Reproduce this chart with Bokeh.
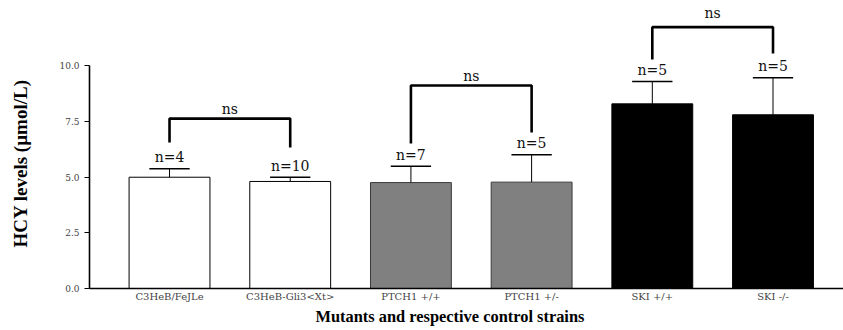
from bokeh.plotting import figure
from bokeh.models import (Range1d, FixedTicker, PrintfTickFormatter, ColumnDataSource, Title,
                          LinearAxis)
from bokeh.core.properties import value
from bokeh.embed import file_html
from bokeh.resources import INLINE

# ---- data ----
strains = ["C3HeB/FeJLe", "C3HeB-Gli3<Xt>", "PTCH1 +/+", "PTCH1 +/-", "SKI +/+", "SKI -/-"]
hcy_mean = [4.99, 4.80, 4.75, 4.77, 8.28, 7.79]
hcy_err = [0.38, 0.19, 0.73, 1.23, 1.00, 1.66]
n_labels = ["n=4", "n=10", "n=7", "n=5", "n=5", "n=5"]
bar_fill = ["#ffffff", "#ffffff", "#808080", "#808080", "#000000", "#000000"]
bar_line = ["#000000", "#000000", "#3a3a3a", "#3a3a3a", "#000000", "#000000"]
pairs = [(0, 1), (2, 3), (4, 5)]
pair_labels = ["ns", "ns", "ns"]
leg_bottom = [6.55, 6.32, 6.50, 7.00, 10.27, 10.54]
bracket_top = [7.62, 9.10, 11.72]
y_ticks = [0, 2.5, 5, 7.5, 10]
y_title = "HCY levels (µmol/L)"
x_title = "Mutants and respective control strains"

xs = list(range(1, len(strains) + 1))
caps = [m + e for m, e in zip(hcy_mean, hcy_err)]

p = figure(width=843, height=330, output_backend="svg", toolbar_location=None,
           x_range=Range1d(0.337, 6.584), y_range=Range1d(0, 12.915),
           min_border_left=89, min_border_right=0, min_border_top=0, min_border_bottom=42)
p.outline_line_color = None
p.grid.visible = False
p.background_fill_color = "white"

src = ColumnDataSource(dict(x=xs, top=hcy_mean, fill=bar_fill, line=bar_line))
p.vbar(x="x", top="top", bottom=0, width=0.67, fill_color="fill", line_color="line",
       line_width=1, source=src)

# error bars
p.segment(x0=xs, y0=hcy_mean, x1=xs, y1=caps, line_color="black", line_width=1)
p.segment(x0=[x - 0.167 for x in xs], y0=caps, x1=[x + 0.167 for x in xs], y1=caps,
          line_color="black", line_width=1.6)

# n labels
p.text(x=xs, y=caps, text=n_labels, text_align="center", text_baseline="middle",
       y_offset=-11.5, text_font=value("DejaVu Serif"), text_font_size="14px",
       text_color="#111111")

# brackets
bx, by = [], []
for (a, b), top in zip(pairs, bracket_top):
    bx.append([xs[a], xs[a], xs[b], xs[b]])
    by.append([leg_bottom[a], top, top, leg_bottom[b]])
p.multi_line(xs=bx, ys=by, line_color="black", line_width=2.6)
mids = [(xs[a] + xs[b]) / 2 for a, b in pairs]
p.text(x=mids, y=bracket_top, text=pair_labels, text_align="center", text_baseline="middle",
       y_offset=[-10, -10, -14], text_font=value("DejaVu Serif"), text_font_size="14px",
       text_color="#111111")

# axes
ya = p.yaxis[0]
ya.ticker = FixedTicker(ticks=y_ticks)
ya.formatter = PrintfTickFormatter(format="%.1f")
ya.bounds = (0, 10)
ya.minor_tick_line_color = None
ya.major_tick_out = 5
ya.major_tick_in = 0
ya.major_label_standoff = 5
ya.major_label_text_font = "DejaVu Serif"
ya.major_label_text_font_size = "9px"
ya.major_label_text_color = "#444444"
ya.axis_line_width = 1.6
ya.major_tick_line_width = 1.2

# invisible spacer axis between the tick labels and the title
spacer = LinearAxis(ticker=FixedTicker(ticks=[0]), axis_line_color=None,
                    major_tick_line_color="white", minor_tick_line_color=None,
                    major_tick_out=26, major_tick_in=0, minor_tick_out=0, minor_tick_in=0,
                    major_label_standoff=0, major_label_overrides={0: ""},
                    major_label_text_color=None)
p.add_layout(spacer, "left")

xa = p.xaxis[0]
xa.ticker = FixedTicker(ticks=xs)
xa.major_label_overrides = {x: s for x, s in zip(xs, strains)}
xa.major_tick_line_color = None
xa.minor_tick_line_color = None
xa.major_tick_out = 0
xa.major_tick_in = 0
xa.major_label_standoff = 2
xa.major_label_text_font = "DejaVu Serif"
xa.major_label_text_font_size = "10px"
xa.major_label_text_color = "#444444"
xa.axis_line_width = 1.6

# axis titles
p.add_layout(Title(text=y_title, align="left", offset=41, standoff=0,
                   text_font="Liberation Serif", text_font_style="bold",
                   text_font_size="19px", text_color="#000000"), "left")
p.add_layout(Title(text=x_title, align="left", offset=226, standoff=0,
                   text_font="Liberation Serif", text_font_style="bold",
                   text_font_size="16.4px", text_color="#000000"), "below")

open("out.html", "w").write(file_html(p, INLINE))
